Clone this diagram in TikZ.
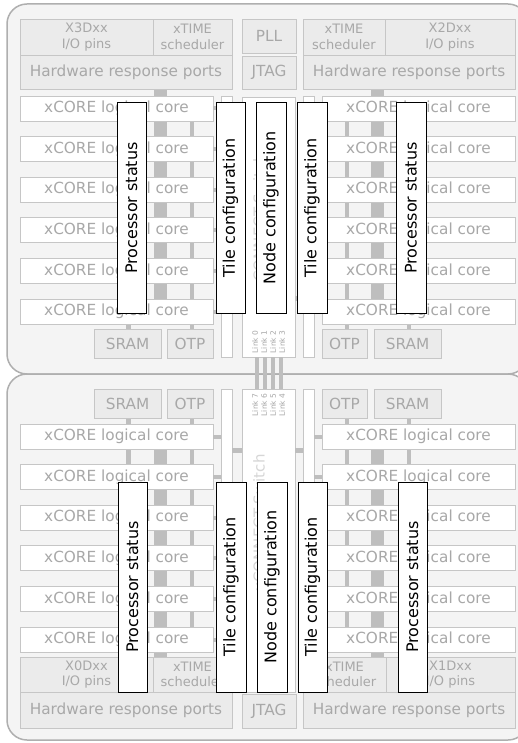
\documentclass[tikz,border=0pt]{standalone}
\usepackage{fontspec}
\setmainfont{DejaVu Sans}
\definecolor{tilebg}{HTML}{F4F4F4}
\definecolor{tileline}{HTML}{AFAFAF}
\definecolor{boxfill}{HTML}{EBEBEB}
\definecolor{boxline}{HTML}{C6C6C6}
\definecolor{txtgray}{HTML}{A8A8A8}
\definecolor{busgray}{HTML}{BEBEBE}
\definecolor{swtext}{HTML}{D6D6D6}
\tikzset{
	tile/.style={draw=tileline,fill=tilebg,line width=1.5pt,rounded corners=20pt},
	gbox/.style={draw=boxline,fill=boxfill,line width=0.8pt,text=txtgray,inner sep=0pt,font=\fontsize{15.3}{18}\selectfont},
	smallbox/.style={gbox,align=center,font=\fontsize{13}{15.5}\selectfont},
	corebox/.style={gbox,fill=white,minimum width=193,minimum height=25},
	wbar/.style={draw=boxline,fill=white,line width=0.8pt,inner sep=0pt},
	busw/.style={draw=busgray,line width=13pt},
	busn/.style={draw=busgray,line width=4.5pt},
	infobox/.style={draw=black,fill=white,line width=1pt,rotate=90,inner sep=0pt,minimum width=210,font=\fontsize{16}{19}\selectfont},
	linklbl/.style={text=txtgray,rotate=90,inner sep=0pt,font=\fontsize{7.5}{9}\selectfont},
	swlbl/.style={text=swtext,rotate=90,inner sep=0pt,font=\fontsize{15}{18}\selectfont}
}
\begin{document}
\begin{tikzpicture}[x=1pt,y=-1pt]
	\useasboundingbox (0,0) rectangle (518,743);
	\fill[white] (0,0) rectangle (518,743);
	% two tiles
	\draw[tile] (7,4) rectangle (528,374);
	\draw[tile] (7,374) rectangle (528,740);
	% buses behind the cores
	\foreach \x in {160.5,377.5} {
		\draw[busw] (\x,89) -- (\x,299);
		\draw[busw] (\x,424) -- (\x,657);
	}
	\foreach \x in {128.5,192,347,409} {
		\draw[busn] (\x,96) -- (\x,329);
		\draw[busn] (\x,418) -- (\x,627);
	}
	% top tile
	\node[smallbox,minimum width=133,minimum height=36] (io3) at (86.5,37) {X3Dxx\\I/O pins};
	\node[smallbox,minimum width=79,minimum height=36] (xtTL) at (192.5,37) {xTIME\\scheduler};
	\node[gbox,minimum width=212,minimum height=34] (hwTL) at (126,72) {Hardware response ports};
	\node[gbox,minimum width=54,minimum height=34] (pll) at (269,36) {PLL};
	\node[gbox,minimum width=54,minimum height=33] (jtagT) at (269,72.5) {JTAG};
	\node[smallbox,minimum width=82,minimum height=36] (xtTR) at (344,37) {xTIME\\scheduler};
	\node[smallbox,minimum width=130,minimum height=36] (io2) at (450,37) {X2Dxx\\I/O pins};
	\node[gbox,minimum width=212,minimum height=34] (hwTR) at (409,72) {Hardware response ports};
	\node[gbox,minimum width=67,minimum height=29] (sramTL) at (127.5,343.5) {SRAM};
	\node[gbox,minimum width=46,minimum height=29] (otpTL) at (190,343.5) {OTP};
	\node[gbox,minimum width=45,minimum height=29] (otpTR) at (344.5,343.5) {OTP};
	\node[gbox,minimum width=67,minimum height=29] (sramTR) at (407.5,343.5) {SRAM};
	\node[wbar,minimum width=11,minimum height=261] (wbTL) at (226.5,226.5) {};
	\node[wbar,minimum width=11,minimum height=261] (wbTR) at (308.5,226.5) {};
	\node[wbar,minimum width=53,minimum height=260] (swT) at (268.5,227) {};
	\node[swlbl] (swlblT) at (259,222) {xCONNECT Switch};
	\foreach \k in {0,...,3}
		\node[linklbl] (lk\k) at ({255+9*\k},342) {Link \k};
	\foreach \k in {0,...,5} {
		\node[corebox] (cTL\k) at (116.5,{108.5+40.6*\k}) {xCORE logical core};
		\node[corebox] (cTR\k) at (418.5,{108.5+40.6*\k}) {xCORE logical core};
		\draw[busn,line width=4pt] (cTL\k.east) -- (cTL\k.east -| wbTL.west);
		\draw[busn,line width=4pt] (cTR\k.west) -- (cTR\k.west -| wbTR.east);
	}
	\draw[busn] (wbTL.east |- 0,298.5) -- (swT.west |- 0,298.5);
	\draw[busn] (wbTR.west |- 0,298.5) -- (swT.east |- 0,298.5);
	% bottom tile
	\node[gbox,minimum width=67,minimum height=29] (sramBL) at (127.5,403.5) {SRAM};
	\node[gbox,minimum width=46,minimum height=29] (otpBL) at (190,403.5) {OTP};
	\node[gbox,minimum width=45,minimum height=29] (otpBR) at (344.5,403.5) {OTP};
	\node[gbox,minimum width=67,minimum height=29] (sramBR) at (407.5,403.5) {SRAM};
	\node[wbar,minimum width=11,minimum height=263] (wbBL) at (226.5,520.5) {};
	\node[wbar,minimum width=11,minimum height=263] (wbBR) at (308.5,520.5) {};
	\node[wbar,minimum width=53,minimum height=303] (swB) at (268.5,540.5) {};
	\node[swlbl] (swlblB) at (259,523) {xCONNECT Switch};
	\foreach \k/\n in {0/7,1/6,2/5,3/4}
		\node[linklbl] (lk\n) at ({255+9*\k},405) {Link \n};
	\foreach \k in {0,...,5} {
		\node[corebox] (cBL\k) at (116.5,{436.5+40.6*\k}) {xCORE logical core};
		\node[corebox] (cBR\k) at (418.5,{436.5+40.6*\k}) {xCORE logical core};
		\draw[busn,line width=4pt] (cBL\k.east) -- (cBL\k.east -| wbBL.west);
		\draw[busn,line width=4pt] (cBR\k.west) -- (cBR\k.west -| wbBR.east);
	}
	\draw[busn] (wbBL.east |- 0,450.5) -- (swB.west |- 0,450.5);
	\draw[busn] (wbBR.west |- 0,450.5) -- (swB.east |- 0,450.5);
	\node[smallbox,minimum width=133,minimum height=35] (io0) at (86.5,674.5) {X0Dxx\\I/O pins};
	\node[smallbox,minimum width=79,minimum height=35] (xtBL) at (192.5,674.5) {xTIME\\scheduler};
	\node[gbox,minimum width=212,minimum height=36] (hwBL) at (126,710) {Hardware response ports};
	\node[gbox,minimum width=54,minimum height=34] (jtagB) at (269,711) {JTAG};
	\node[smallbox,minimum width=83,minimum height=35] (xtBR) at (344.5,674.5) {xTIME\\scheduler};
	\node[smallbox,minimum width=129,minimum height=35] (io1) at (450.5,674.5) {X1Dxx\\I/O pins};
	\node[gbox,minimum width=212,minimum height=36] (hwBR) at (409,710) {Hardware response ports};
	% links between the two switches
	\foreach \k in {0,...,3}
		\draw[busn,line width=4pt] ([xshift={8*\k-11.5}]swT.south) -- ([xshift={8*\k-11.5}]swB.north);
	% status and configuration registers
	\node[infobox,minimum height=29] (psTL) at (131.5,208) {Processor status};
	\node[infobox,minimum height=29] (tcTL) at (230.5,208) {Tile configuration};
	\node[infobox,minimum height=30] (ncT) at (271,208) {Node configuration};
	\node[infobox,minimum height=30] (tcTR) at (312,208) {Tile configuration};
	\node[infobox,minimum height=30] (psTR) at (411,208) {Processor status};
	\node[infobox,minimum height=29] (psBL) at (132.5,587) {Processor status};
	\node[infobox,minimum height=30] (tcBL) at (231,587) {Tile configuration};
	\node[infobox,minimum height=30] (ncB) at (272,587) {Node configuration};
	\node[infobox,minimum height=29] (tcBR) at (312.5,587) {Tile configuration};
	\node[infobox,minimum height=29] (psBR) at (412.5,587) {Processor status};
\end{tikzpicture}
\end{document}
